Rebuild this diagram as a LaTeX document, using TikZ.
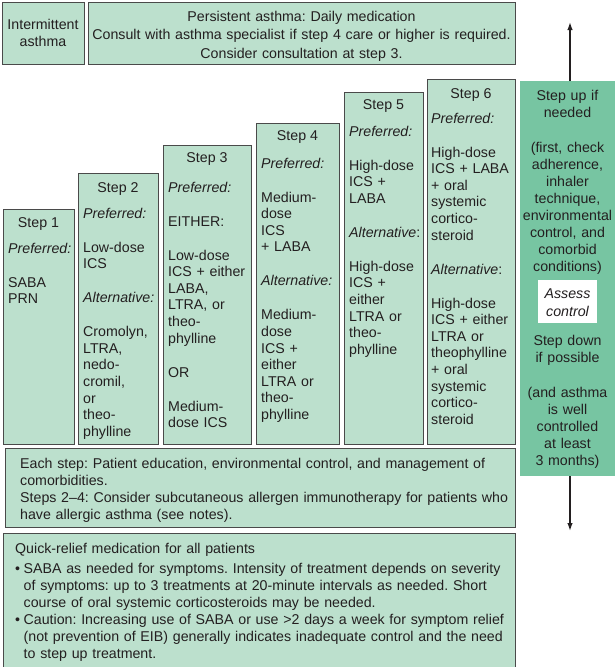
\documentclass[tikz,border=0pt]{standalone}
\usepackage{fontspec}
\setmainfont{Liberation Sans}
\usetikzlibrary{arrows.meta}
\frenchspacing

\definecolor{stepfill}{HTML}{BCE0CD}
\definecolor{ctrlfill}{HTML}{77C5A2}
\definecolor{edge}{HTML}{4A4A4A}
\definecolor{ink}{HTML}{231F20}

% extra space between paragraphs inside a step column
\newcommand{\pgap}{\\[17.4pt]}

\tikzset{
  panel/.style={draw=edge, fill=stepfill, line width=1.2pt, inner sep=0pt,
                anchor=north west},
  ctrlpanel/.style={fill=ctrlfill, inner sep=0pt, anchor=north west},
  whitepanel/.style={fill=white, inner sep=0pt, anchor=north west},
  txt/.style={text=ink, inner sep=0pt, font=\fontsize{14.2}{16.6}\selectfont},
  head/.style={txt, anchor=base},
  body/.style={txt, anchor=base west, align=left, text width=120pt},
  ctr/.style={txt, anchor=base, align=center, text width=95pt,
              font=\fontsize{14.2}{17}\selectfont},
  arr/.style={draw=ink, line width=1.4pt, -{Latex[length=8pt,width=5.5pt]}},
}

\begin{document}
\begin{tikzpicture}[x=1pt,y=-1pt]
\useasboundingbox (0,0) rectangle (615,667);
\clip (0,0) rectangle (615,667);

% --- top banners ---
\node[panel, minimum width=82pt, minimum height=62pt] (inter) at (2,2) {};
\node[panel, minimum width=427pt, minimum height=62pt] (persist) at (88,2) {};
\node[txt, anchor=base, align=center, text width=82pt,
      font=\fontsize{14.2}{17}\selectfont]
  (intertxt) at (43,29) {Intermittent\\asthma};
\node[txt, anchor=base, align=center, text width=427pt,
      font=\fontsize{14.2}{18.5}\selectfont]
  (persisttxt) at (301.5,21) {Persistent asthma: Daily medication\\
  Consult with asthma specialist if step 4 care or higher is required.\\
  Consider consultation at step 3.};

% --- step columns ---
\node[panel, minimum width=71pt, minimum height=235pt] (s1) at (3,209) {};
\node[panel, minimum width=80pt, minimum height=271pt] (s2) at (78,173) {};
\node[panel, minimum width=88pt, minimum height=299pt] (s3) at (163,145) {};
\node[panel, minimum width=83pt, minimum height=321pt] (s4) at (256,123) {};
\node[panel, minimum width=79pt, minimum height=352pt] (s5) at (344,92) {};
\node[panel, minimum width=88pt, minimum height=365pt] (s6) at (427,79) {};

\node[head] (s1h) at (38.5,227) {Step 1};
\node[head] (s2h) at (118,192) {Step 2};
\node[head] (s3h) at (207,162) {Step 3};
\node[head] (s4h) at (297.5,140) {Step 4};
\node[head] (s5h) at (383.5,109) {Step 5};
\node[head] (s6h) at (471,98) {Step 6};

\node[body] (s1b) at (8,253) {\textit{Preferred:}\pgap SABA\\PRN};
\node[body] (s2b) at (83,218) {\textit{Preferred:}\pgap Low-dose\\ICS\pgap
  \textit{Alternative:}\pgap Cromolyn,\\LTRA,\\nedo-\\cromil,\\or\\theo-\\phylline};
\node[body] (s3b) at (168,192) {\textit{Preferred:}\pgap EITHER:\pgap
  Low-dose\\ICS + either\\LABA,\\LTRA, or\\theo-\\phylline\pgap OR\pgap
  Medium-\\dose ICS};
\node[body] (s4b) at (261,168) {\textit{Preferred:}\pgap Medium-\\dose\\ICS\\+ LABA\pgap
  \textit{Alternative:}\pgap Medium-\\dose\\ICS +\\either\\LTRA or\\theo-\\phylline};
\node[body] (s5b) at (349,136) {\textit{Preferred:}\pgap High-dose\\ICS +\\LABA\pgap
  \textit{Alternative}:\pgap High-dose\\ICS +\\either\\LTRA or\\theo-\\phylline};
\node[body] (s6b) at (431,123) {\textit{Preferred:}\pgap High-dose\\ICS + LABA\\
  + oral\\systemic\\cortico-\\steroid\pgap \textit{Alternative}:\pgap
  High-dose\\ICS + either\\LTRA or\\theophylline\\+ oral\\systemic\\cortico-\\steroid};

% --- general notes ---
\node[panel, minimum width=510pt, minimum height=79pt] (each) at (5,448) {};
\node[txt, anchor=base west, align=left, text width=500pt,
      font=\fontsize{14.2}{17}\selectfont] (eachtxt) at (20,468)
  {Each step: Patient education, environmental control, and management of\\
   comorbidities.\\
   Steps 2–4: Consider subcutaneous allergen immunotherapy for patients who\\
   have allergic asthma (see notes).};

\node[panel, minimum width=512pt, minimum height=140pt] (quick) at (3,533) {};
\node[txt, anchor=base west, align=left, text width=500pt,
      font=\fontsize{14.2}{17}\selectfont] (quicktxt) at (15,553)
  {Quick-relief medication for all patients\\[3pt]
   \makebox[8.5pt][l]{\textbullet}SABA as needed for symptoms. Intensity of treatment depends on severity\\
   \hspace*{8.5pt}of symptoms: up to 3 treatments at 20-minute intervals as needed. Short\\
   \hspace*{8.5pt}course of oral systemic corticosteroids may be needed.\\
   \makebox[8.5pt][l]{\textbullet}Caution: Increasing use of SABA or use >2 days a week for symptom relief\\
   \hspace*{8.5pt}(not prevention of EIB) generally indicates inadequate control and the need\\
   \hspace*{8.5pt}to step up treatment.};

% --- assessment column ---
\node[ctrlpanel, minimum width=95pt, minimum height=395pt] (ctrl) at (520,81) {};
\node[ctr] (uptxt) at (567.5,100) {Step up if\\needed\\[18pt]
  (first, check\\adherence,\\inhaler\\technique,\\environmental\\control, and\\
  comorbid\\conditions)};
\node[whitepanel, minimum width=59pt, minimum height=43pt] (assess) at (538,280) {};
\node[txt, anchor=base, align=center, text width=59pt,
      font=\itshape\fontsize{14.2}{18}\selectfont]
  (assesstxt) at (567.5,298) {Assess\\control};
\node[ctr] (downtxt) at (567.5,345) {Step down\\if possible\\[18pt]
  (and asthma\\is well\\controlled\\at least\\3 months)};

\coordinate (uptip) at (570,22);
\coordinate (downtip) at (570,531);
\draw[arr] (ctrl.north -| uptip) -- (uptip);
\draw[arr] (ctrl.south -| downtip) -- (downtip);
\end{tikzpicture}
\end{document}
